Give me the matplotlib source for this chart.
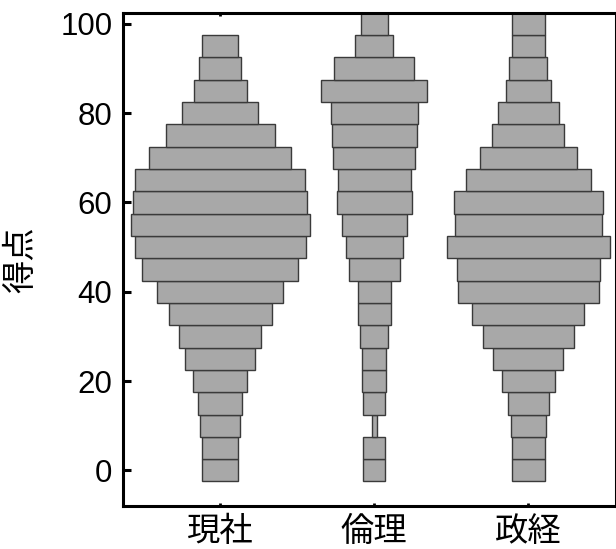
import matplotlib
matplotlib.use("Agg")
import matplotlib.pyplot as plt
import numpy as np

plt.rcParams['font.family'] = ['Liberation Sans', 'Noto Sans CJK JP', 'DejaVu Sans']

# Data: score bins (centre of each 5-point bin) and relative frequency (bar width)
categories = ['現社', '倫理', '政経']
bins = [0, 5, 10, 15, 20, 25, 30, 35, 40, 45, 50, 55, 60, 65, 70, 75, 80, 85, 90, 95, 100]
freq_gensha = [36.3, 36.7, 40.0, 43.7, 54.0, 69.3, 82.3, 103.0, 125.7, 155.7, 171.0,
               179.0, 174.3, 170.7, 142.7, 109.0, 75.7, 53.0, 42.3, 35.7, 0.0]
freq_rinri = [22.3, 22.3, 5.3, 22.0, 24.3, 24.0, 28.0, 32.7, 32.7, 51.0, 57.0,
              65.0, 74.7, 73.0, 81.7, 85.3, 87.3, 106.0, 79.7, 38.3, 27.3]
freq_seikei = [33.3, 33.3, 35.3, 41.0, 53.0, 70.0, 91.7, 112.0, 141.7, 142.3, 162.7,
               147.7, 149.3, 125.0, 97.7, 72.0, 60.3, 45.0, 38.0, 32.3, 32.3]
yticks = [0, 20, 40, 60, 80, 100]

series = [freq_gensha, freq_rinri, freq_seikei]
SCALE = 154.15  # frequency units per category spacing

fig = plt.figure(figsize=(6.16, 5.49), dpi=100)
ax = fig.add_axes([0.1992, 0.0783, 0.8008, 0.8985])

for i, f in enumerate(series):
    w = np.array(f) / SCALE
    mask = w > 0
    ax.barh(np.array(bins)[mask], w[mask], height=5, left=i - w[mask] / 2,
            color='#a8a8a8', edgecolor='#3a3a3a', linewidth=1.0, zorder=2)

ax.set_xlim(-0.6315, 2.5686)
ax.set_ylim(-8, 102.5)
ax.set_xticks(range(len(categories)))
ax.set_xticklabels(categories, fontsize=24, family=['Noto Sans CJK JP'])
ax.set_yticks(yticks)
ax.set_yticklabels([str(t) for t in yticks], fontsize=22.5)
ax.set_ylabel('得点', fontsize=24, family=['Noto Sans CJK JP'])
ax.yaxis.set_label_coords(-0.172, 0.5)

for s in ax.spines.values():
    s.set_linewidth(2.2)
    s.set_color('black')

ax.tick_params(axis='y', direction='in', length=5.8, width=2.2, pad=7.5, right=False)
ax.tick_params(axis='x', direction='in', length=2.2, width=2.0, pad=5.5, top=True)

fig.savefig('out.png', dpi=100)
